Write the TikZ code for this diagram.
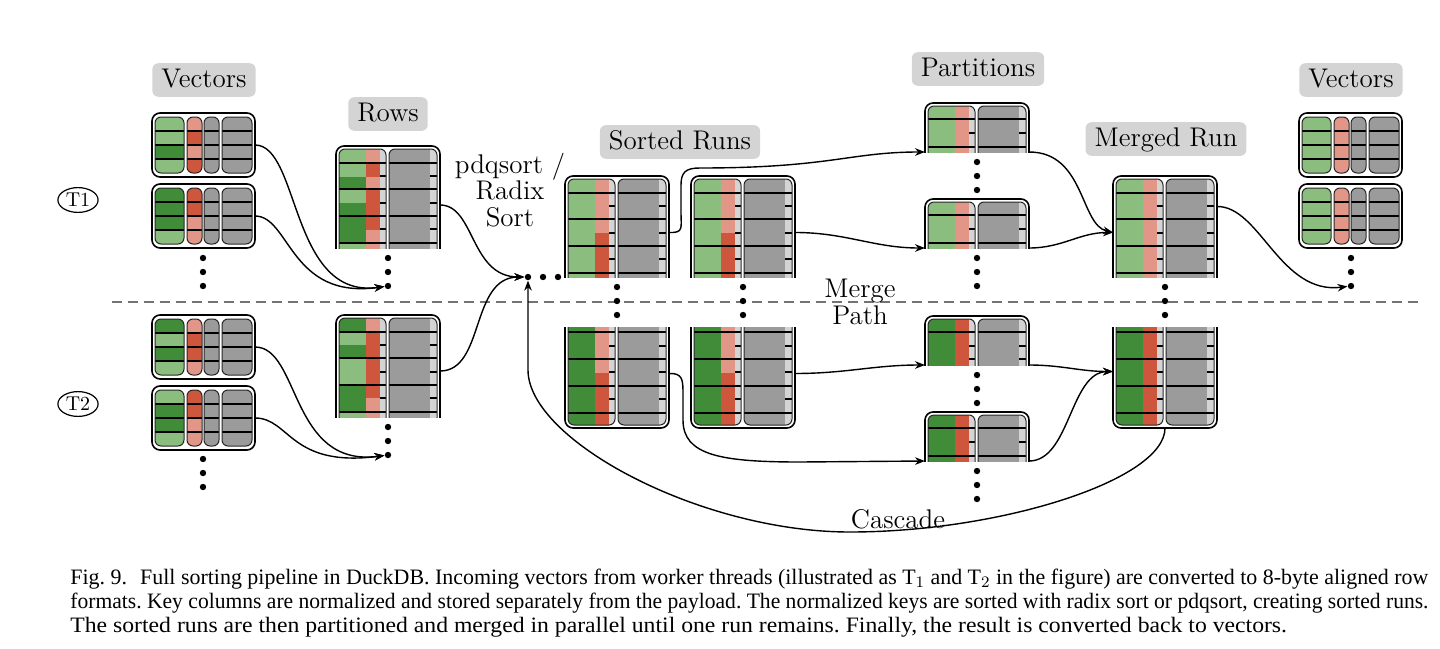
\documentclass[tikz,border=0pt]{standalone}
\usepackage{fontspec}
\newfontfamily\capfont{Liberation Serif}
\usetikzlibrary{arrows.meta,shapes.geometric}

\definecolor{glight}{RGB}{139,189,127}
\definecolor{gdark}{RGB}{64,140,56}
\definecolor{rlight}{RGB}{226,150,136}
\definecolor{rdark}{RGB}{206,86,60}
\definecolor{vgray}{RGB}{155,155,155}
\definecolor{lgray}{RGB}{212,212,212}
\definecolor{labelgray}{RGB}{212,212,212}

\newcommand{\lblfont}{\fontsize{13.5}{13.3}\selectfont}
\newcommand{\capfull}[1]{\resizebox{679pt}{\height}{\frenchspacing #1}}
\newcommand{\caplast}[1]{\scalebox{1.077}[1]{\frenchspacing #1}}

\tikzset{
  stage/.style={fill=labelgray,rounded corners=3pt,inner xsep=4.5pt,inner ysep=2.4pt,
                text height=9.5pt,text depth=2.5pt,font=\lblfont},
  plain/.style={inner sep=0pt,font=\lblfont},
  thread/.style={ellipse,draw,line width=0.6pt,inner sep=1pt,minimum width=20pt,
                 minimum height=10pt,font=\fontsize{10}{10}\selectfont},
  dot/.style={circle,fill=black,inner sep=0pt,minimum size=3.2pt},
  blockarea/.style={inner sep=0pt,outer sep=0pt},
  outerframe/.style={line width=0.8pt,black},
  colframe/.style={line width=0.5pt,black!85},
  rowline/.style={line width=0.55pt,black},
  flow/.style={->,line width=0.7pt},
  sepline/.style={dash pattern=on 5pt off 3pt,line width=0.6pt,black!55},
  capline/.style={inner sep=0pt,font=\capfont\fontsize{11}{12}\selectfont}
}

% one column of a vector: x1, x2, y1, y2, colours of the four rows
\newcommand{\veccol}[5]{%
  \begin{scope}
    \clip[rounded corners=3pt] (#1,#3) rectangle (#2,#4);
    \foreach \c [count=\i from 0] in {#5}
      \fill[\c] ({#1},{#3+\i*14}) rectangle ({#2},{#3+\i*14+14});
    \foreach \i in {1,2,3}
      \draw[rowline] ({#1},{#3+\i*14}) -- ({#2},{#3+\i*14});
  \end{scope}
  \draw[colframe,rounded corners=3pt] (#1,#3) rectangle (#2,#4);
}

% vector block: name, x, y, key colours, second key colours
\newcommand{\vecblock}[5]{%
  \node[blockarea,minimum width=51.5pt,minimum height=32pt] (#1) at (#2+51.5,#3+32) {};
  \draw[outerframe,rounded corners=4pt] (#2,#3) rectangle (#2+103,#3+64);
  \veccol{#2+3}{#2+32}{#3+4}{#3+60}{#4}
  \veccol{#2+35}{#2+50}{#3+4}{#3+60}{#5}
  \veccol{#2+52}{#2+67}{#3+4}{#3+60}{vgray,vgray,vgray,vgray}
  \veccol{#2+70}{#2+100}{#3+4}{#3+60}{vgray,vgray,vgray,vgray}
}

% row block: name, x, top, height, open side (1 bottom, -1 top),
% key segments, full row lines, short row lines
\newcommand{\runblock}[8]{%
  \pgfmathsetmacro\rbT{#3-6*(1-(#5))}%
  \pgfmathsetmacro\rbB{#3+#4+6*(1+(#5))}%
  \pgfmathsetmacro\rbCT{#3-1.5*(1+(#5))}%
  \pgfmathsetmacro\rbCB{#3+#4+1.5*(1-(#5))}%
  \node[blockarea,minimum width=52pt,minimum height=#4*0.5pt] (#1) at (#2+52,#3+#4/2) {};
  \begin{scope}
    \clip (#2-3,\rbCT) rectangle (#2+107,\rbCB);
    \begin{scope}
      \clip[rounded corners=3pt] (#2+3,\rbT+3) rectangle (#2+50,\rbB-3);
      \fill[lgray] (#2+3,\rbT) rectangle (#2+50,\rbB);
      \foreach \ya/\yb/\cg/\cr in {#6} {
        \fill[\cg] ({#2+3},{#3+\ya}) rectangle ({#2+30},{#3+\yb});
        \fill[\cr] ({#2+30},{#3+\ya}) rectangle ({#2+44},{#3+\yb});
      }
    \end{scope}
    \begin{scope}
      \clip[rounded corners=3pt] (#2+53,\rbT+3) rectangle (#2+101,\rbB-3);
      \fill[lgray] (#2+53,\rbT) rectangle (#2+101,\rbB);
      \fill[vgray] (#2+53,\rbT) rectangle (#2+94,\rbB);
    \end{scope}
    \foreach \yy in {#7}
      \draw[rowline] ({#2+3},{#3+\yy}) -- ({#2+50},{#3+\yy})
                     ({#2+53},{#3+\yy}) -- ({#2+101},{#3+\yy});
    \foreach \yy in {#8}
      \draw[rowline] ({#2+44},{#3+\yy}) -- ({#2+50},{#3+\yy})
                     ({#2+94},{#3+\yy}) -- ({#2+101},{#3+\yy});
    \draw[colframe,rounded corners=3pt] (#2+3,\rbT+3) rectangle (#2+50,\rbB-3);
    \draw[colframe,rounded corners=3pt] (#2+53,\rbT+3) rectangle (#2+101,\rbB-3);
    \draw[outerframe,rounded corners=4pt] (#2,\rbT) rectangle (#2+104,\rbB);
  \end{scope}
}

% three dots below each other: name, x, y of the first
\newcommand{\dotcol}[3]{%
  \foreach \i in {1,2,3} \node[dot] (#1\i) at (#2,#3+\i*14-14) {};
}

\begin{document}
\begin{tikzpicture}[x=0.5pt,y=-0.5pt,>={Stealth[length=5pt,width=3.8pt]}]
  \useasboundingbox (0,0) rectangle (1440,648);

  % threads and separator
  \node[thread] (t1) at (78,200) {T1};
  \node[thread] (t2) at (78,404) {T2};
  \coordinate (sepL) at (112,302);
  \coordinate (sepR) at (1422,302);
  \draw[sepline] (sepL) -- (sepR);

  % incoming vectors
  \node[stage] (vecin) at (204,80) {Vectors};
  \vecblock{vA1}{152}{113}{glight,glight,gdark,glight}{rlight,rdark,rlight,rdark}
  \vecblock{vA2}{152}{184}{gdark,gdark,gdark,glight}{rdark,rdark,rlight,rlight}
  \dotcol{dA}{203}{258}
  \vecblock{vB1}{152}{315}{gdark,glight,gdark,glight}{rlight,rdark,rdark,rlight}
  \vecblock{vB2}{152}{386}{glight,gdark,gdark,glight}{rdark,rdark,rlight,rlight}
  \dotcol{dB}{203}{459}

  % rows
  \node[stage] (rows) at (388,114) {Rows};
  \runblock{rowA}{336}{146}{102}{1}{0/17/glight/rlight,17/31/glight/rdark,31/44/gdark/rlight,44/57/glight/rdark,57/84/gdark/rdark,84/97/gdark/rlight,97/115/glight/rlight}{17,43,70,97}{30,57,83}
  \dotcol{drA}{388}{258}
  \runblock{rowB}{336}{315}{102}{1}{0/17/gdark/rlight,17/30/glight/rdark,30/43/gdark/rdark,43/70/glight/rdark,70/83/gdark/rdark,83/97/gdark/rlight,97/115/glight/rlight}{17,43,70,97}{30,57,83}
  \dotcol{drB}{388}{427}

  % sorting
  \node[plain,align=center] (sortlbl) at (510,190) {pdqsort /\\Radix\\Sort};
  \foreach \i in {1,2,3} \node[dot] (sd\i) at (513+\i*15,277) {};

  % sorted runs
  \node[stage] (sorted) at (680,142) {Sorted Runs};
  \runblock{srA1}{565}{176}{101}{1}{0/57/glight/rlight,57/115/glight/rdark}{17,43,70,97}{30,57,83}
  \runblock{srA2}{691}{176}{101}{1}{0/57/glight/rlight,57/115/glight/rdark}{17,43,70,97}{30,57,83}
  \runblock{srB1}{565}{327}{101}{-1}{-15/46/gdark/rlight,46/110/gdark/rdark}{5,32,59,86}{19,45,72}
  \runblock{srB2}{691}{327}{101}{-1}{-15/46/gdark/rlight,46/110/gdark/rdark}{5,32,59,86}{19,45,72}
  \dotcol{dsA}{617}{287}
  \dotcol{dsB}{743}{287}

  % partitions
  \node[stage] (parts) at (978,69) {Partitions};
  \runblock{pt1}{925}{103}{49}{1}{0/70/glight/rlight}{16,44}{30}
  \runblock{pt2}{925}{199}{49}{1}{0/70/glight/rlight}{16,44}{30}
  \runblock{pt3}{925}{316}{49}{1}{0/70/gdark/rdark}{16}{30,43}
  \runblock{pt4}{925}{412}{49}{1}{0/70/gdark/rdark}{16,44}{30}
  \dotcol{dp1}{977}{162}
  \dotcol{dp2}{977}{258}
  \dotcol{dp3}{977}{375}
  \dotcol{dp4}{977}{471}
  \node[plain,align=center] (mpath) at (860,302) {Merge\\Path};

  % merged run
  \node[stage] (merged) at (1166,139) {Merged Run};
  \runblock{mrA}{1113}{176}{101}{1}{0/115/glight/rlight}{17,43,70,97}{30,57,83}
  \runblock{mrB}{1113}{327}{101}{-1}{-15/110/gdark/rdark}{5,32,59,86}{19,45,72}
  \dotcol{dm}{1165}{287}

  % outgoing vectors
  \node[stage] (vecout) at (1351,80) {Vectors};
  \vecblock{vC1}{1299}{113}{glight,glight,glight,glight}{rlight,rlight,rlight,rlight}
  \vecblock{vC2}{1299}{184}{glight,glight,glight,glight}{rlight,rlight,rlight,rlight}
  \dotcol{dC}{1351}{258}

  \node[plain] (cascade) at (898,519) {Cascade};

  % connectors
  \draw[flow] (vA1.east) .. controls (300,145) and (290,300) .. (drA3);
  \draw[flow] (vA2.east) .. controls (290,216) and (290,300) .. (drA3);
  \draw[flow] (vB1.east) .. controls (300,347) and (290,468) .. (drB3);
  \draw[flow] (vB2.east) .. controls (290,418) and (290,468) .. (drB3);
  \draw[flow] ([yshift=-4pt]rowA.east) .. controls (475,205) and (470,277) .. (sd1);
  \draw[flow] ([yshift=-2.5pt]rowB.east) .. controls (485,371) and (470,277) .. (sd1);
  \draw[flow] ([yshift=-3pt]srA1.east) .. controls (684,233) and (681,228) .. (681,212)
    -- (681,185) .. controls (681,172) and (686,168) .. (700,168)
    .. controls (830,168) and (850,152) .. (pt1.south west);
  \draw[flow] ([yshift=-3pt]srA2.east) to[out=0,in=180] (pt2.south west);
  \draw[flow] ([yshift=2pt]srB1.east) .. controls (683,373) and (683,380) .. (683,395)
    -- (683,420) .. controls (683,455) and (720,462) .. (800,462) -- (pt4.south west);
  \draw[flow] ([yshift=2pt]srB2.east) to[out=0,in=180] (pt3.south west);
  \draw[flow] (pt1.south east) .. controls (1085,152) and (1080,225) .. ([yshift=-3pt]mrA.west);
  \draw[flow] (pt2.south east) to[out=0,in=180] ([yshift=-3pt]mrA.west);
  \draw[flow] (pt3.south east) to[out=0,in=180] ([yshift=3pt]mrB.west);
  \draw[flow] (pt4.south east) .. controls (1070,461) and (1070,372) .. ([yshift=3pt]mrB.west);
  \draw[flow] ([yshift=10pt]mrA.east) .. controls (1260,206) and (1280,295) .. (dC3);
  \draw[flow] (mrB.south) .. controls (1165,480) and (1000,532) .. (850,532)
    .. controls (700,532) and (528,440) .. (528,370) -- (sd1);

  % caption
  \node[capline,anchor=base west] (cap1) at (70,584) {\capfull{Fig. 9.\hspace{0.6em}Full sorting pipeline in DuckDB. Incoming vectors from worker threads (illustrated as T$_1$ and T$_2$ in the figure) are converted to 8-byte aligned row}};
  \node[capline,anchor=base west] (cap2) at (70,608) {\capfull{formats. Key columns are normalized and stored separately from the payload. The normalized keys are sorted with radix sort or pdqsort, creating sorted runs.}};
  \node[capline,anchor=base west] (cap3) at (70,632) {\caplast{The sorted runs are then partitioned and merged in parallel until one run remains. Finally, the result is converted back to vectors.}};
\end{tikzpicture}
\end{document}
